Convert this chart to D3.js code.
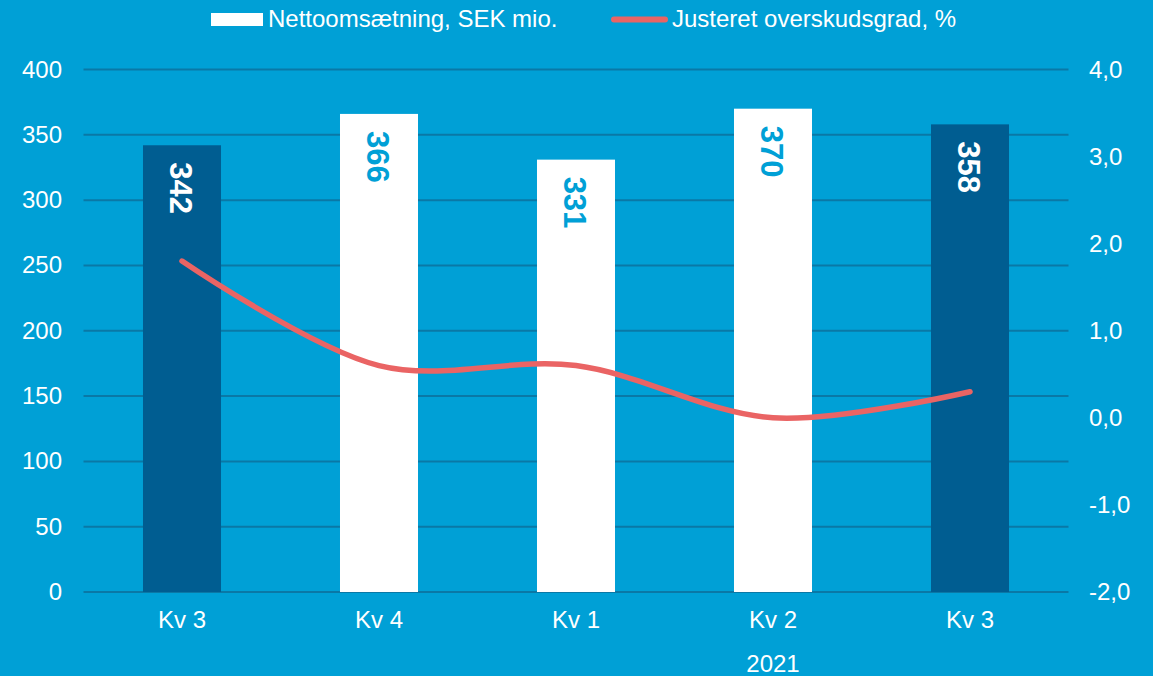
<!DOCTYPE html>
<html>
<head>
<meta charset="utf-8">
<script src="https://cdn.jsdelivr.net/npm/d3@7"></script>
<style>
  body { margin: 0; background: #00a0d6; }
  svg { display: block; font-family: "Liberation Sans", Arial, sans-serif; }
</style>
</head>
<body>
<svg id="chart" width="1153" height="676"></svg>
<script>
const quarters = ["Kv 3", "Kv 4", "Kv 1", "Kv 2", "Kv 3"];
const revenue = [342, 366, 331, 370, 358];
const margin = [1.8, 0.6, 0.6, 0.0, 0.3];
const highlight = [true, false, false, false, true];
const leftTicks = [0, 50, 100, 150, 200, 250, 300, 350, 400];
const rightTicks = [-2, -1, 0, 1, 2, 3, 4];
const yearLabel = "2021";

const bg = "#00a0d6", dark = "#005d91", grid = "#0a78a6", red = "#ea6464";
const svg = d3.select("#chart");
svg.append("rect").attr("width", 1153).attr("height", 676).attr("fill", bg);

const x = d3.scaleBand().domain(d3.range(quarters.length)).range([83.5, 1068.5]).paddingInner(0.604).paddingOuter(0.302);
const y = d3.scaleLinear().domain([0, 400]).range([592, 69.5]);
const y2 = d3.scaleLinear().domain([-2, 4]).range([592, 69.5]);
const cx = i => x(i) + x.bandwidth() / 2;

// gridlines
svg.append("g").selectAll("line").data(leftTicks).join("line")
  .attr("x1", 83.5).attr("x2", 1068.5)
  .attr("y1", d => y(d)).attr("y2", d => y(d))
  .attr("stroke", grid).attr("stroke-width", 2);

// left axis labels
svg.append("g").selectAll("text").data(leftTicks).join("text")
  .attr("x", 62).attr("y", d => y(d) + 8)
  .attr("text-anchor", "end").attr("fill", "#fff").attr("font-size", 24)
  .text(d => d);

// right axis labels
svg.append("g").selectAll("text").data(rightTicks).join("text")
  .attr("x", 1089).attr("y", d => y2(d) + 8)
  .attr("fill", "#fff").attr("font-size", 24)
  .text(d => d3.format(".1f")(d).replace(".", ",").replace("\u2212", "-"));

// bars
const bars = svg.append("g").selectAll("g").data(revenue).join("g");
bars.append("rect")
  .attr("x", (d, i) => x(i)).attr("width", x.bandwidth())
  .attr("y", d => y(d)).attr("height", d => y(0) - y(d))
  .attr("fill", (d, i) => highlight[i] ? dark : "#fff");
bars.append("text")
  .attr("transform", (d, i) => `translate(${cx(i) - 12},${y(d) + 17}) rotate(90)`)
  .attr("font-size", 31).attr("font-weight", "bold")
  .attr("fill", (d, i) => highlight[i] ? "#fff" : bg)
  .text(d => d);

// margin line
const line = d3.line()
  .x((d, i) => cx(i))
  .y(d => y2(d))
  .curve(d3.curveCatmullRom.alpha(0.5));
svg.append("path").datum(margin)
  .attr("d", line).attr("fill", "none")
  .attr("stroke", red).attr("stroke-width", 5.5).attr("stroke-linecap", "round");

// x labels
svg.append("g").selectAll("text").data(quarters).join("text")
  .attr("x", (d, i) => cx(i)).attr("y", 628)
  .attr("text-anchor", "middle").attr("fill", "#fff").attr("font-size", 24)
  .text(d => d);
svg.append("text")
  .attr("x", cx(3)).attr("y", 672)
  .attr("text-anchor", "middle").attr("fill", "#fff").attr("font-size", 24)
  .text(yearLabel);

// legend
const lg = svg.append("g");
lg.append("rect").attr("x", 211).attr("y", 13).attr("width", 52).attr("height", 13).attr("fill", "#fff");
lg.append("text").attr("x", 268).attr("y", 27).attr("fill", "#fff").attr("font-size", 24)
  .text("Nettoomsætning, SEK mio.");
lg.append("line").attr("x1", 614).attr("x2", 665).attr("y1", 19.5).attr("y2", 19.5)
  .attr("stroke", red).attr("stroke-width", 6).attr("stroke-linecap", "round");
lg.append("text").attr("x", 672).attr("y", 27).attr("fill", "#fff").attr("font-size", 24)
  .text("Justeret overskudsgrad, %");
</script>
</body>
</html>
